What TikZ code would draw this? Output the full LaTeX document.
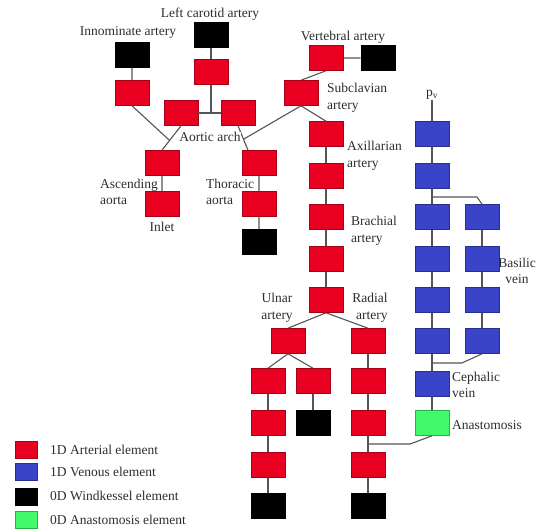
\documentclass[tikz,border=0pt]{standalone}
\usepackage{fontspec}
\setmainfont{Liberation Serif}
\usetikzlibrary{calc}
\definecolor{artred}{RGB}{234,0,32}
\definecolor{venblue}{RGB}{58,68,200}
\definecolor{anagreen}{RGB}{64,250,108}
\definecolor{wire}{RGB}{85,85,85}
\definecolor{txt}{RGB}{45,45,45}
\tikzset{
  elem/.style={rectangle,minimum width=34pt,minimum height=25pt,inner sep=0pt,line width=0.6pt},
  art/.style={elem,fill=artred,draw=artred!70!black},
  ven/.style={elem,fill=venblue,draw=venblue!70!black},
  wk/.style={elem,fill=black,draw=black},
  ana/.style={elem,fill=anagreen,draw=anagreen!70!black},
  key/.style={rectangle,minimum width=22pt,minimum height=17pt,inner sep=0pt,line width=0.6pt},
  lbl/.style={text=txt,inner sep=0pt,align=left,font=\fontsize{13.5}{16.5}\selectfont},
  wire/.style={draw=wire,line width=1.1pt}
}
\begin{document}
\begin{tikzpicture}[x=1pt,y=-1pt]
\useasboundingbox (0,0) rectangle (536,531);
% aorta and arch
\node[wk] (inW) at (132,55) {};
\node[art] (inR) at (132,93) {};
\node[wk] (lcW) at (211,35) {};
\node[art] (lcR) at (211,72) {};
\node[art] (archL) at (181,113) {};
\node[art] (archR) at (238,113) {};
\node[art] (asc1) at (162,163) {};
\node[art] (asc2) at (162,204) {};
\node[art] (th1) at (259,163) {};
\node[art] (th2) at (259,204) {};
\node[wk] (thW) at (259,242) {};
% subclavian, arm arteries
\node[art] (vtR) at (326,58) {};
\node[wk] (vtW) at (378,58) {};
\node[art] (sc) at (301,93) {};
\node[art] (ax1) at (326,134) {};
\node[art] (ax2) at (326,176) {};
\node[art] (br1) at (326,217) {};
\node[art] (br2) at (326,259) {};
\node[art] (ul0) at (326,300) {};
\node[art] (ul) at (288,341) {};
\node[art] (rd) at (368,341) {};
\node[art] (u1) at (268,381) {};
\node[art] (u2) at (268,423) {};
\node[art] (u3) at (268,465) {};
\node[wk] (uW) at (268,506) {};
\node[art] (m1) at (313,381) {};
\node[wk] (mW) at (313,423) {};
\node[art] (r1) at (368,381) {};
\node[art] (r2) at (368,423) {};
\node[art] (r3) at (368,465) {};
\node[wk] (rW) at (368,506) {};
% veins
\node[lbl] (pv) at (432,95) {p$_{\mathrm{v}}$};
\node[ven] (v1) at (432,134) {};
\node[ven] (v2) at (432,176) {};
\node[ven] (v3) at (432,217) {};
\node[ven] (v4) at (432,259) {};
\node[ven] (v5) at (432,300) {};
\node[ven] (v6) at (432,341) {};
\node[ven] (ceph) at (432,384) {};
\node[ana] (ana) at (432,423) {};
\node[ven] (b1) at (482,217) {};
\node[ven] (b2) at (482,259) {};
\node[ven] (b3) at (482,300) {};
\node[ven] (b4) at (482,341) {};
% junctions
\coordinate (ascJ) at ($(asc1.north)!0.4!(archL.south)$);
\coordinate (thTop) at ([xshift=-11pt]th1.north);
\coordinate (scJ) at ($(archR.south)!0.55!(thTop)$);
\coordinate (vSplit) at (432,197);
\coordinate (vBend) at (477,197);
\coordinate (bBend) at (462,363);
\coordinate (bJoin) at (432,363);
\coordinate (aBend) at (410,444);
\coordinate (aJoin) at (368,444);
% connectors
\draw[wire] (inW)--(inR) (inR.south)--(ascJ);
\draw[wire] (lcW)--(lcR) (lcR)--(lcR |- archL);
\draw[wire] (archL)--(archR);
\draw[wire] (asc1.north)--(archL.south) (asc1)--(asc2);
\draw[wire] (archR.south)--(thTop) (th1)--(th2)--(thW);
\draw[wire] (vtR)--(vtW) (sc.north)--(vtR.south);
\draw[wire] (sc.south)--(scJ) (sc.south)--(ax1.north);
\draw[wire] (ax1)--(ax2)--(br1)--(br2)--(ul0);
\draw[wire] (ul0.south)--(ul.north) (ul0.south)--(rd.north);
\draw[wire] (ul.south)--(u1.north) (ul.south)--(m1.north);
\draw[wire] (u1)--(u2)--(u3)--(uW) (m1)--(mW);
\draw[wire] (rd)--(r1)--(r2)--(r3)--(rW);
\draw[wire] (pv)--(v1);
\draw[wire] (v1)--(v2)--(v3)--(v4)--(v5)--(v6)--(ceph)--(ana);
\draw[wire] (vSplit)--(vBend)--(b1.north);
\draw[wire] (b1)--(b2)--(b3)--(b4);
\draw[wire] (b4.south)--(bBend)--(bJoin);
\draw[wire] (ana.south)--(aBend)--(aJoin);
% labels
\node[lbl] (tInn) at (128,32) {Innominate artery};
\node[lbl] (tLc) at (210,14) {Left carotid artery};
\node[lbl] (tVt) at (343,37) {Vertebral artery};
\node[lbl,fill=white,inner sep=0.5pt] (tArch) at (210,137) {Aortic arch};
\node[lbl,anchor=west] (tAsc) at (100,192) {Ascending\\aorta};
\node[lbl,anchor=west] (tTh) at (206,192) {Thoracic\\aorta};
\node[lbl] (tIn) at (162,227) {Inlet};
\node[lbl,anchor=west] (tSc) at (327,98) {Subclavian\\artery};
\node[lbl,anchor=west] (tAx) at (347,156) {Axillarian\\artery};
\node[lbl,anchor=west] (tBr) at (351,231) {Brachial\\artery};
\node[lbl,align=center] (tUl) at (277,308) {Ulnar\\artery};
\node[lbl,align=right] (tRd) at (370,308) {Radial\\artery};
\node[lbl,align=center] (tBa) at (517,271) {Basilic\\vein};
\node[lbl,anchor=west] (tCe) at (452,385) {Cephalic\\vein};
\node[lbl,anchor=west] (tAn) at (452,425) {Anastomosis};
% legend
\node[key,fill=artred,draw=artred!70!black] (kA) at (26,450) {};
\node[key,fill=venblue,draw=venblue!70!black] (kV) at (26,472) {};
\node[key,fill=black,draw=black] (kW) at (26,497) {};
\node[key,fill=anagreen,draw=anagreen!70!black] (kG) at (26,520) {};
\node[lbl,anchor=west] (lA) at (50,450) {1D Arterial element};
\node[lbl,anchor=west] (lV) at (50,472) {1D Venous element};
\node[lbl,anchor=west] (lW) at (50,496) {0D Windkessel element};
\node[lbl,anchor=west] (lG) at (50,520) {0D Anastomosis element};
\end{tikzpicture}
\end{document}
